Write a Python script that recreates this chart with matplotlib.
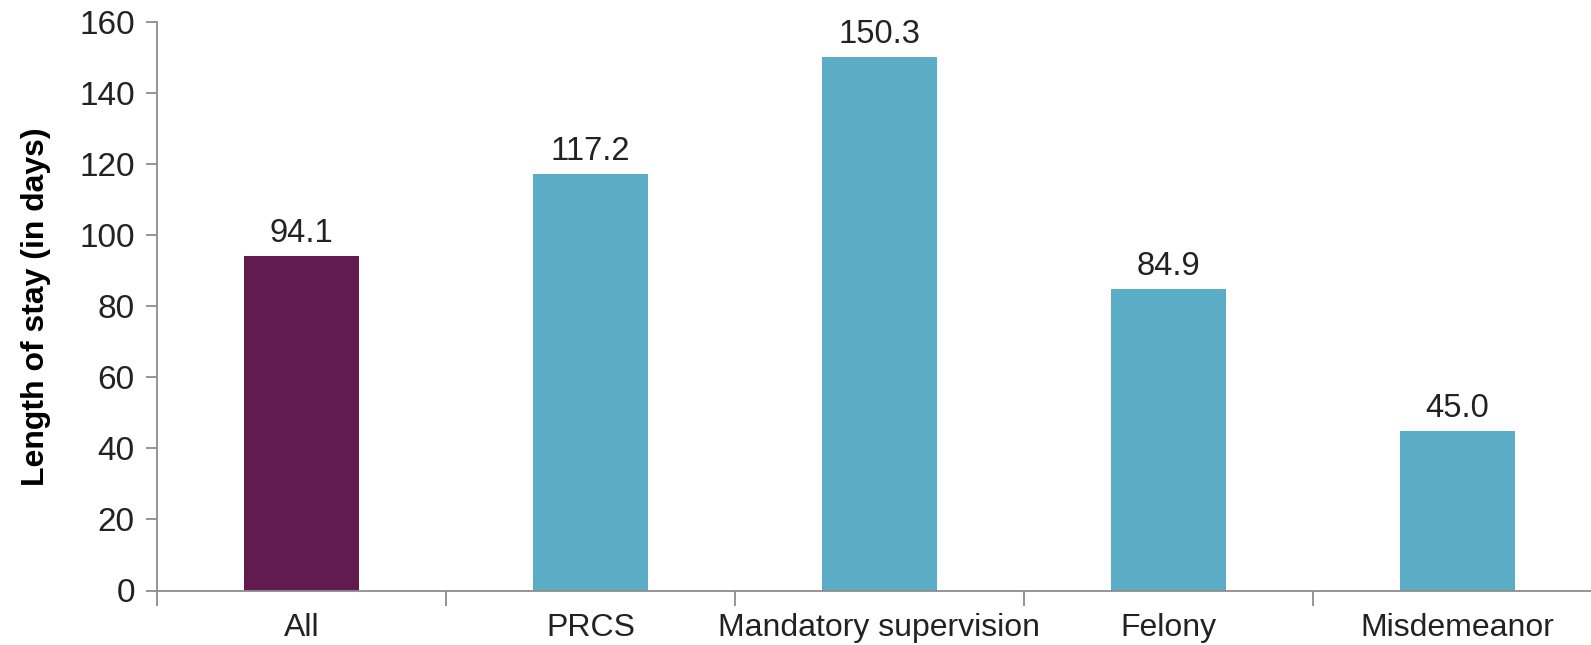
import numpy as np
import matplotlib.pyplot as plt

plt.rcParams['font.family'] = ['Liberation Sans', 'DejaVu Sans']

categories = ['All', 'PRCS', 'Mandatory supervision', 'Felony', 'Misdemeanor']
values = [94.1, 117.2, 150.3, 84.9, 45.0]
bar_colors = ['#621B4E', '#5AADC5', '#5AADC5', '#5AADC5', '#5AADC5']
y_ticks = [0, 20, 40, 60, 80, 100, 120, 140, 160]

W, H = 1591, 645
fig = plt.figure(figsize=(W / 100, H / 100), dpi=100)

# axes runs slightly past the right edge, like the original
left, right, bottom, top = 157, 1602, 590.5, 22.3
ax = fig.add_axes([left / W, 1 - bottom / H, (right - left) / W, (bottom - top) / H])

x = np.arange(len(categories))
ax.bar(x, values, width=0.40, color=bar_colors, zorder=2)

for xi, v in zip(x, values):
    ax.annotate(f'{v:.1f}', (xi, v), xytext=(0, 7), textcoords='offset pixels',
                ha='center', va='bottom', fontsize=23.5, color='#222222')

ax.set_xlim(-0.5, len(categories) - 0.5)
ax.set_ylim(0, 160)
ax.set_yticks(y_ticks)
ax.set_xticks(x)
ax.set_xticklabels(categories, fontsize=23, color='#222222')
ax.tick_params(axis='x', length=0, pad=16)
ax.set_xticks(np.arange(len(categories) + 1) - 0.5, minor=True)
ax.tick_params(axis='x', which='minor', length=11, width=1.3, color='#8c8c8c', direction='out')
ax.tick_params(axis='y', labelsize=24, labelcolor='#222222', length=8, width=1.3,
               color='#8c8c8c', pad=8)

for s in ['top', 'right']:
    ax.spines[s].set_visible(False)
for s in ['left', 'bottom']:
    ax.spines[s].set_color('#8c8c8c')
    ax.spines[s].set_linewidth(1.3)

ax.set_ylabel('Length of stay (in days)', fontsize=23, fontweight='bold', labelpad=20)

fig.savefig('out.png', dpi=100)
